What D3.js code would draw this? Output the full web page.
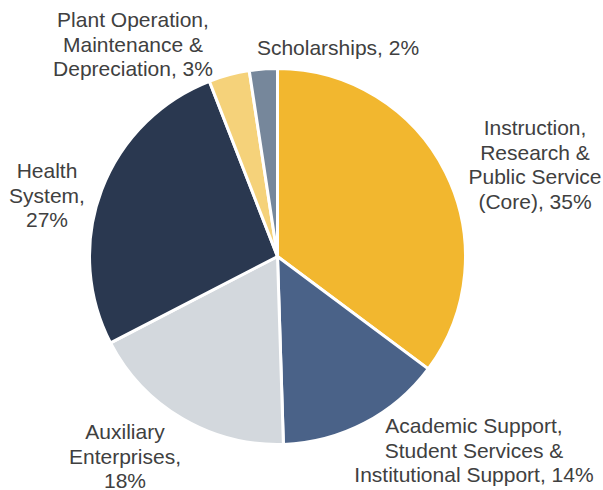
<!DOCTYPE html>
<html>
<head>
<meta charset="utf-8">
<script src="https://cdn.jsdelivr.net/npm/d3@7"></script>
<style>
  html, body { margin: 0; padding: 0; background: #ffffff; }
  svg { display: block; }
</style>
</head>
<body>
<div id="chart"></div>
<script>
// ---- data ----
const categories = [
  "Instruction, Research & Public Service (Core)",
  "Academic Support, Student Services & Institutional Support",
  "Auxiliary Enterprises",
  "Health System",
  "Plant Operation, Maintenance & Depreciation",
  "Scholarships"
];
const values = [35.2, 14.3, 17.9, 26.7, 3.5, 2.4];
const percentLabels = ["35%", "14%", "18%", "27%", "3%", "2%"];
const labelLines = [
  ["Instruction,", "Research &", "Public Service", "(Core), 35%"],
  ["Academic Support,", "Student Services &", "Institutional Support, 14%"],
  ["Auxiliary", "Enterprises,", "18%"],
  ["Health", "System,", "27%"],
  ["Plant Operation,", "Maintenance &", "Depreciation, 3%"],
  ["Scholarships, 2%"]
];
const colors = ["#F2B72F", "#4A6288", "#D3D8DD", "#2A3850", "#F5D27A", "#76879B"];

// ---- layout ----
const W = 603, H = 490;
const cx = 277.5, cy = 256.5, R = 188;
const fontSize = 21, lineH = 24.5;
// first-line baseline anchor (x center, y baseline) for each label
const labelAnchor = [
  [535, 135],
  [474, 433],
  [125, 439],
  [47, 178],
  [133, 27],
  [338, 55]
];

const svg = d3.select("#chart").append("svg")
  .attr("width", W).attr("height", H);

const pie = d3.pie().sort(null).value(d => d)
  .startAngle(0).endAngle(2 * Math.PI);
const arc = d3.arc().innerRadius(0).outerRadius(R);
const color = d3.scaleOrdinal().domain(d3.range(categories.length)).range(colors);

const g = svg.append("g").attr("transform", `translate(${cx},${cy})`);
g.selectAll("path.slice")
  .data(pie(values))
  .join("path")
  .attr("class", "slice")
  .attr("d", arc)
  .attr("fill", (d, i) => color(i))
  .attr("stroke", "#ffffff")
  .attr("stroke-width", 3)
  .attr("stroke-linejoin", "miter");

const labels = svg.append("g")
  .attr("font-family", "'Liberation Sans', Arial, sans-serif")
  .attr("font-size", fontSize)
  .attr("fill", "#404040")
  .attr("text-anchor", "middle");

labelLines.forEach((lines, i) => {
  const t = labels.append("text")
    .attr("x", labelAnchor[i][0])
    .attr("y", labelAnchor[i][1]);
  lines.forEach((ln, j) => {
    t.append("tspan")
      .attr("x", labelAnchor[i][0])
      .attr("y", labelAnchor[i][1] + j * lineH)
      .text(ln);
  });
});
</script>
</body>
</html>
